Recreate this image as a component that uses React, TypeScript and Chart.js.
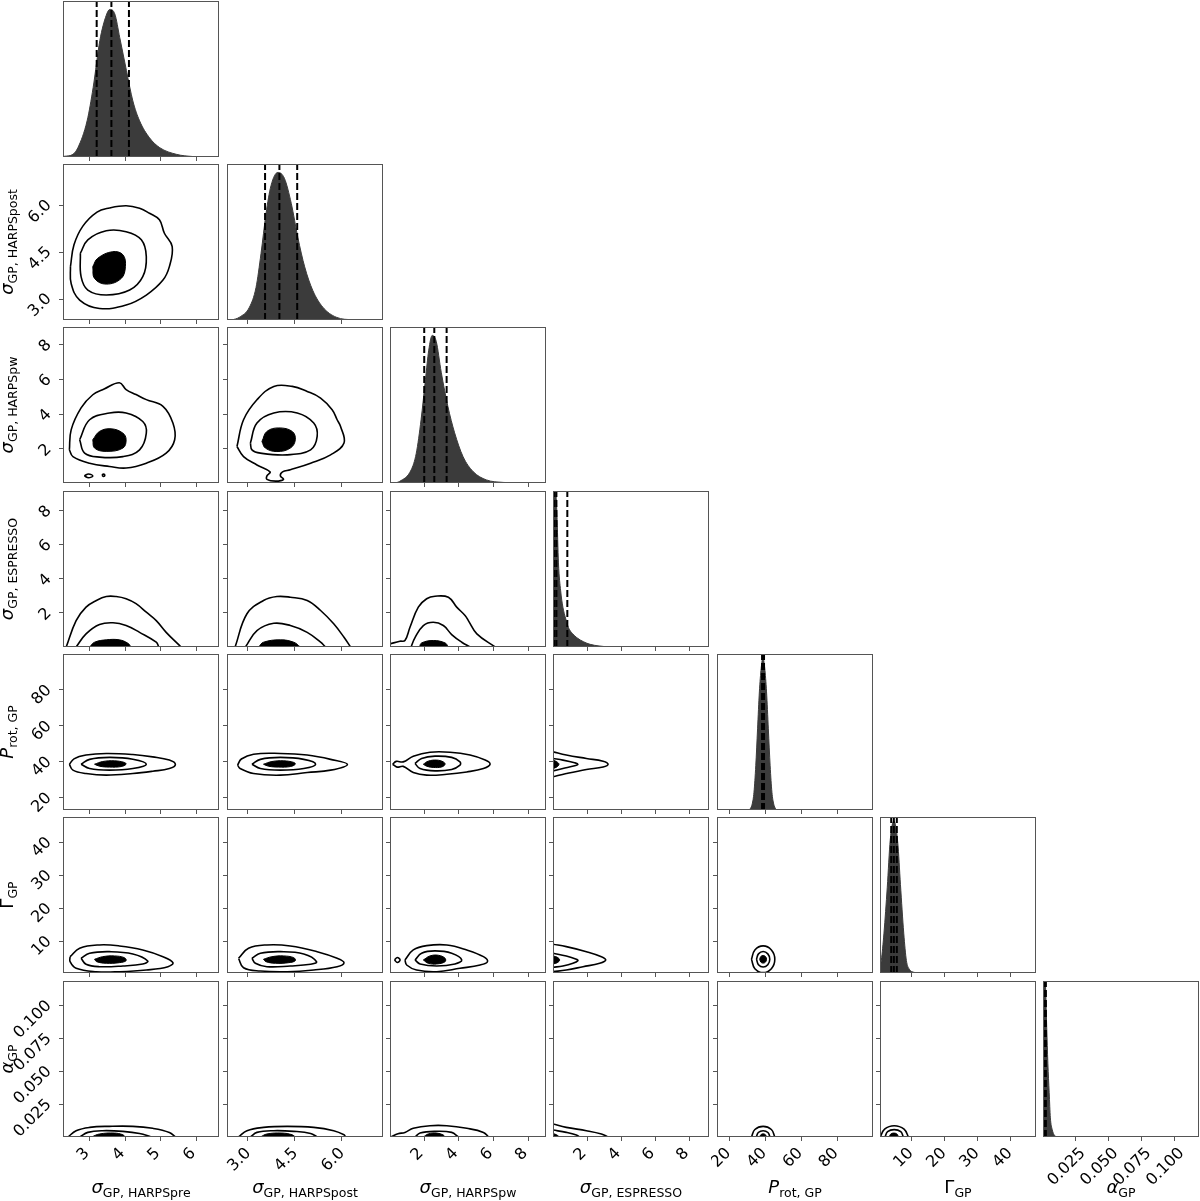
import React, { useEffect, useRef } from "react";
import { Chart, registerables } from "chart.js";

Chart.register(...registerables);
Chart.defaults.font.family = "'DejaVu Sans', sans-serif";

type Pt = [number, number];

// ---------------- axes (one entry per parameter) ----------------
const PARAM_MIN = [2.24, 2.34, 0.04, 0.0, 13.1, 0.3, 0.0];
const PARAM_MAX = [6.64, 7.34, 9.02, 9.15, 100.0, 47.6, 0.1185];
const PARAM_TICKS = [
  [3, 4, 5, 6],
  [3.0, 4.5, 6.0],
  [2, 4, 6, 8],
  [2, 4, 6, 8],
  [20, 40, 60, 80],
  [10, 20, 30, 40],
  [0.025, 0.05, 0.075, 0.1],
];
const PARAM_TICK_LABELS = [
  ["3", "4", "5", "6"],
  ["3.0", "4.5", "6.0"],
  ["2", "4", "6", "8"],
  ["2", "4", "6", "8"],
  ["20", "40", "60", "80"],
  ["10", "20", "30", "40"],
  ["0.025", "0.050", "0.075", "0.100"],
];
const LABEL_MAIN = ["σ", "σ", "σ", "σ", "P", "Γ", "α"];
const LABEL_ITALIC = [true, true, true, true, true, false, true];
const LABEL_SUB = ["GP, HARPSpre", "GP, HARPSpost", "GP, HARPSpw", "GP, ESPRESSO", "rot, GP", "GP", "GP"];

// ---------------- 1D marginals ----------------
const HIST0_X = [2.10, 2.29, 2.52, 2.66, 2.92, 3.09, 3.28, 3.46, 3.56, 3.70, 3.84, 4.03, 4.21, 4.40, 4.68, 4.97, 5.44, 5.91, 6.30];
const HIST0_Y = [0, 0.5, 1.8, 6.3, 24.5, 47, 79, 96, 100, 97, 81, 58.5, 38, 24.5, 13, 6.3, 1.8, 0.3, 0];
const HIST1_X = [2.50, 2.74, 3.06, 3.27, 3.43, 3.59, 3.75, 3.97, 4.18, 4.40, 4.61, 4.83, 5.09, 5.41, 5.84, 6.38, 7.00];
const HIST1_Y = [0, 1.9, 8.7, 22, 45, 72, 91, 100, 96, 79, 56, 36, 20, 8.7, 1.9, 0.2, 0];
const HIST2_X = [0.30, 0.58, 1.26, 1.55, 1.83, 2.08, 2.27, 2.47, 2.70, 2.99, 3.37, 3.76, 4.24, 4.82, 5.59, 6.55, 7.50];
const HIST2_Y = [0, 1, 8.9, 20, 43, 70, 90, 100, 96, 75, 52, 34, 18, 7.8, 2.1, 0.4, 0];
const HIST3_X = [0.0, 0.15, 0.23, 0.32, 0.45, 0.58, 0.75, 0.91, 1.15, 1.40, 1.80, 2.18, 2.70, 3.20, 4.50];
const HIST3_Y = [118, 108, 90, 57, 38, 27, 19, 13, 9, 6.3, 3.5, 1.8, 0.7, 0.2, 0];
const HIST4_X = [30.7, 31.7, 32.7, 33.7, 34.7, 35.7, 36.7, 37.7, 38.7, 39.7, 40.7, 41.7, 42.7, 43.7, 44.7, 45.7, 46.7];
const HIST4_Y = [0, 1, 4, 12, 30, 55, 80, 96, 103, 96, 80, 55, 30, 12, 4, 1, 0];
const HIST5_X = [0.3, 0.7, 1.5, 2.5, 3.4, 4.5, 5.7, 6.5, 7.5, 8.3, 9.2, 10.5, 12.0];
const HIST5_Y = [4, 8.5, 27, 58, 90, 103, 88, 60, 27, 8.5, 2.5, 0.5, 0];
const HIST6_X = [0.0, 0.0008, 0.0018, 0.0028, 0.0037, 0.0047, 0.0056, 0.0070, 0.0088, 0.0110, 0.0140];
const HIST6_Y = [118, 112, 105, 75, 50, 30, 13, 5, 1, 0.2, 0];
const HIST_TOP = [105.7, 105.7, 105.7, 105.7, 105.7, 105.7, 105.7];

// 16th / 50th / 84th percentiles
const Q0 = [3.19, 3.605, 4.10];
const Q1 = [3.56, 4.02, 4.59];
const Q2 = [2.01, 2.59, 3.30];
const Q3 = [0.08, 0.20, 0.84];
const Q4 = [38.2, 38.7, 39.3];
const Q5 = [3.7, 4.5, 5.4];
const Q6 = [0.0004, 0.0010, 0.0022];

// ---------------- 2D contours (outer, middle = lines; inner = filled) ----------------
const C10_OUT: Pt[] = [[2.45,4.05],[2.55,4.75],[2.80,5.35],[3.20,5.80],[3.55,5.93],[4.02,6.0],[4.40,5.92],[4.68,5.76],[4.96,5.55],[5.10,5.12],[5.32,4.69],[5.24,4.05],[5.06,3.62],[4.59,3.14],[4.02,2.82],[3.27,2.71],[2.71,2.98],[2.47,3.51]];
const C10_MID: Pt[] = [[2.73,4.48],[2.94,4.91],[3.46,5.20],[4.02,5.17],[4.45,4.91],[4.59,4.37],[4.49,3.73],[4.12,3.30],[3.46,3.14],[2.94,3.30],[2.75,3.73]];
const C10_IN: Pt[] = [[3.08,4.05],[3.22,4.32],[3.64,4.53],[3.93,4.43],[4.0,4.05],[3.88,3.67],[3.46,3.49],[3.13,3.67]];

const C20_OUT: Pt[] = [[2.42,1.95],[2.47,3.10],[2.75,4.36],[3.08,5.12],[3.40,5.45],[3.83,5.81],[4.02,5.42],[4.30,5.13],[4.59,4.84],[5.06,4.45],[5.34,3.49],[5.39,2.53],[5.15,1.76],[4.59,1.18],[4.02,0.90],[3.55,0.99],[2.99,1.18],[2.52,1.56]];
const C20_MID: Pt[] = [[2.71,2.53],[2.99,3.68],[3.55,4.07],[4.02,4.07],[4.49,3.58],[4.59,2.91],[4.40,1.95],[3.93,1.56],[3.27,1.53],[2.85,1.76]];
const C20_IN: Pt[] = [[3.08,2.53],[3.27,3.01],[3.60,3.16],[3.93,2.91],[4.02,2.53],[3.93,2.05],[3.46,1.86],[3.13,2.05]];
const C20_ISL_A: Pt[] = [[2.84,0.45],[2.96,0.56],[3.08,0.45],[2.96,0.34]];
const C20_ISL_B: Pt[] = [[3.34,0.49],[3.38,0.56],[3.42,0.49],[3.38,0.42]];

const C21_OUT: Pt[] = [[2.66,2.14],[2.87,3.68],[3.30,4.83],[3.84,5.60],[4.43,5.60],[4.91,5.31],[5.34,4.93],[5.71,4.26],[5.87,3.68],[5.98,3.29],[6.09,2.34],[5.66,1.66],[5.02,1.18],[4.37,0.80],[4.12,0.68],[4.05,0.45],[4.15,0.25],[3.90,0.15],[3.62,0.25],[3.62,0.45],[3.72,0.68],[3.30,1.08],[2.87,1.56]];
const C21_MID: Pt[] = [[3.09,2.34],[3.30,3.49],[3.84,4.07],[4.59,4.07],[5.12,3.49],[5.23,2.72],[5.02,1.95],[4.27,1.66],[3.41,1.76],[3.14,1.95]];
const C21_IN: Pt[] = [[3.46,2.43],[3.62,3.01],[4.00,3.21],[4.43,3.01],[4.53,2.53],[4.37,2.05],[3.94,1.85],[3.57,2.05]];

const C30_OUT: Pt[] = [[2.33,0.0],[2.61,1.55],[2.89,2.34],[3.18,2.73],[3.46,2.96],[3.74,2.96],[4.02,2.83],[4.30,2.54],[4.59,2.04],[4.87,1.55],[5.15,0.86],[5.57,0.0]];
const C30_MID: Pt[] = [[2.61,0.0],[2.89,0.77],[3.27,1.32],[3.65,1.42],[4.02,1.26],[4.40,0.86],[4.87,0.28],[4.94,0.0]];
const C30_IN: Pt[] = [[2.99,0.0],[3.13,0.28],[3.46,0.42],[3.83,0.42],[4.07,0.22],[4.16,0.0]];

const C31_OUT: Pt[] = [[2.60,0.0],[2.98,1.95],[3.51,2.73],[3.94,2.96],[4.37,2.92],[4.91,2.73],[5.34,2.14],[5.76,1.36],[6.09,0.57],[6.30,0.0]];
const C31_MID: Pt[] = [[2.93,0.0],[3.30,0.96],[3.84,1.39],[4.37,1.26],[4.91,0.86],[5.34,0.28],[5.50,0.0]];
const C31_IN: Pt[] = [[3.35,0.0],[3.51,0.28],[4.05,0.42],[4.48,0.28],[4.69,0.0]];

const C32_OUT: Pt[] = [[0.04,0.18],[0.61,0.34],[0.90,0.38],[1.19,1.16],[1.67,2.34],[2.15,2.83],[2.63,2.98],[3.40,2.92],[3.88,2.34],[4.36,1.85],[4.55,1.55],[5.04,0.77],[6.09,0.0]];
const C32_MID: Pt[] = [[1.25,0.0],[1.48,0.55],[1.96,1.26],[2.53,1.45],[3.11,1.26],[3.59,0.73],[4.17,0.28],[4.65,0.0]];
const C32_IN: Pt[] = [[1.73,0.0],[1.86,0.24],[2.53,0.38],[3.21,0.24],[3.40,0.0]];

const C40_OUT: Pt[] = [[2.42,38.5],[2.55,41.6],[2.89,43.7],[3.46,44.6],[4.21,44.0],[4.77,42.7],[5.24,40.9],[5.41,38.5],[5.24,36.2],[4.77,34.7],[4.21,33.4],[3.46,32.5],[2.89,33.4],[2.52,35.3]];
const C40_MID: Pt[] = [[2.75,38.6],[2.99,41.3],[3.55,42.4],[4.21,41.4],[4.59,38.6],[4.21,36.2],[3.55,35.3],[2.99,36.2]];
const C40_IN: Pt[] = [[3.13,38.6],[3.36,40.1],[3.69,40.5],[3.97,39.6],[4.02,38.6],[3.88,37.3],[3.55,37.0],[3.27,37.5]];

const C41_OUT: Pt[] = [[2.68,38.1],[2.80,41.5],[3.19,44.2],[4.05,44.6],[4.91,43.7],[5.66,41.3],[6.20,38.5],[5.66,35.3],[4.91,34.0],[4.05,32.5],[3.19,33.4],[2.76,36.2]];
const C41_MID: Pt[] = [[3.14,38.6],[3.41,41.3],[4.05,42.4],[4.80,41.3],[5.18,38.6],[4.80,36.2],[4.05,35.3],[3.41,36.2]];
const C41_IN: Pt[] = [[3.51,38.6],[3.78,40.1],[4.16,40.5],[4.48,39.6],[4.53,38.6],[4.37,37.3],[4.00,37.0],[3.67,37.5]];

const C42_OUT: Pt[] = [[0.19,38.6],[0.40,40.2],[0.80,39.9],[1.38,43.1],[2.34,45.3],[3.49,45.3],[4.65,43.7],[5.52,40.9],[5.80,38.6],[5.42,36.2],[4.46,34.3],[3.31,33.0],[2.15,32.5],[1.38,34.0],[0.80,37.4],[0.45,37.0]];
const C42_MID: Pt[] = [[1.48,39.0],[1.86,41.8],[2.63,43.1],[3.59,42.4],[4.07,39.9],[4.07,38.1],[3.59,35.7],[2.63,34.9],[1.77,36.2]];
const C42_IN: Pt[] = [[1.96,38.6],[2.24,40.3],[2.73,40.9],[3.11,39.9],[3.21,38.6],[3.02,37.1],[2.53,36.8],[2.15,37.5]];

const C43_OUT: Pt[] = [[0.0,45.5],[0.78,43.7],[1.96,41.8],[2.94,40.3],[3.23,38.6],[2.94,37.1],[1.96,35.7],[0.78,33.4],[0.0,31.6]];
const C43_MID: Pt[] = [[0.0,41.8],[0.58,40.9],[1.27,39.4],[1.46,38.6],[1.27,37.7],[0.58,36.2],[0.0,34.9]];
const C43_IN: Pt[] = [[0.0,40.9],[0.23,39.9],[0.35,38.6],[0.23,37.1],[0.0,36.2]];

const C50_OUT: Pt[] = [[2.44,5.25],[2.71,7.81],[3.27,8.81],[3.83,8.51],[4.49,7.29],[5.06,5.25],[5.34,3.43],[5.20,2.21],[4.59,1.21],[3.83,0.70],[3.18,0.70],[2.61,1.73],[2.44,3.73]];
const C50_MID: Pt[] = [[2.75,4.77],[2.99,6.29],[3.55,6.77],[4.21,6.08],[4.63,3.95],[4.49,3.04],[3.93,2.43],[3.27,2.21],[2.89,2.94]];
const C50_IN: Pt[] = [[3.13,4.46],[3.36,5.25],[3.69,5.47],[3.97,4.95],[4.02,4.04],[3.83,3.43],[3.46,3.25],[3.19,3.73]];

const C51_OUT: Pt[] = [[2.71,4.77],[3.03,7.81],[3.62,8.81],[4.37,8.51],[5.23,6.77],[5.87,4.77],[6.09,3.43],[5.87,2.21],[5.12,1.21],[4.27,0.70],[3.41,0.91],[2.87,1.91]];
const C51_MID: Pt[] = [[3.14,4.77],[3.41,6.29],[4.05,6.77],[4.80,6.08],[5.21,3.73],[5.02,2.94],[4.37,2.43],[3.62,2.21],[3.25,3.25]];
const C51_IN: Pt[] = [[3.51,4.46],[3.78,5.25],[4.16,5.47],[4.48,4.95],[4.53,4.04],[4.32,3.43],[3.89,3.25],[3.59,3.73]];

const C52_OUT: Pt[] = [[0.90,4.25],[1.38,7.29],[2.15,8.60],[3.31,8.81],[4.46,7.29],[5.42,5.25],[5.65,3.73],[5.23,2.73],[4.07,1.73],[2.73,0.70],[1.57,1.21],[1.0,2.73]];
const C52_MID: Pt[] = [[1.48,4.25],[1.86,6.29],[2.63,7.0],[3.59,6.29],[4.17,4.25],[3.78,3.04],[2.73,2.43],[1.77,3.04]];
const C52_IN: Pt[] = [[1.96,4.25],[2.34,5.47],[2.82,5.68],[3.21,4.77],[3.21,3.73],[2.73,3.04],[2.24,3.25]];
const C52_ISL: Pt[] = [[0.30,4.25],[0.46,5.0],[0.62,4.25],[0.46,3.5]];

const C53_OUT: Pt[] = [[0.0,9.02],[0.78,8.29],[1.96,6.77],[2.84,5.25],[3.09,4.25],[2.74,3.25],[1.76,2.21],[0.78,1.21],[0.0,0.70]];
const C53_MID: Pt[] = [[0.0,6.29],[0.78,5.47],[1.37,4.46],[1.46,4.04],[1.17,3.25],[0.58,2.43],[0.0,2.03]];
const C53_IN: Pt[] = [[0.0,5.47],[0.25,5.07],[0.39,4.25],[0.25,3.43],[0.0,3.04]];

const C54_OUT: Pt[] = [[32.3,4.46],[34.2,7.3],[38.8,8.51],[43.4,7.3],[45.3,4.46],[43.4,1.6],[38.8,0.4],[34.2,1.6]];
const C54_MID: Pt[] = [[35.1,4.46],[36.2,6.1],[38.8,6.8],[41.4,6.1],[42.5,4.46],[41.4,2.8],[38.8,2.1],[36.2,2.8]];
const C54_IN: Pt[] = [[36.9,4.46],[37.5,5.3],[38.8,5.6],[40.1,5.3],[40.7,4.46],[40.1,3.6],[38.8,3.3],[37.5,3.6]];

const C60_OUT: Pt[] = [[2.38,0],[2.61,0.0048],[2.99,0.0073],[3.55,0.0081],[4.21,0.0081],[4.77,0.0066],[5.24,0.0035],[5.41,0]];
const C60_MID: Pt[] = [[2.71,0],[2.94,0.0035],[3.36,0.0048],[3.93,0.0043],[4.40,0.0027],[4.73,0]];
const C60_IN: Pt[] = [[3.04,0],[3.27,0.0023],[3.69,0.0030],[3.93,0.0017],[4.0,0]];

const C61_OUT: Pt[] = [[2.71,0],[2.98,0.0048],[3.51,0.0073],[4.27,0.0081],[5.12,0.0073],[5.76,0.0048],[6.09,0.0017],[6.14,0]];
const C61_MID: Pt[] = [[3.09,0],[3.30,0.0035],[3.84,0.0048],[4.48,0.0043],[5.02,0.0027],[5.23,0]];
const C61_IN: Pt[] = [[3.41,0],[3.62,0.0023],[4.10,0.0030],[4.43,0.0017],[4.53,0]];

const C62_OUT: Pt[] = [[0.08,0],[0.5,0.0025],[0.90,0.0035],[1.38,0.0066],[2.34,0.0086],[3.31,0.0086],[4.46,0.0066],[5.42,0.0035],[5.71,0]];
const C62_MID: Pt[] = [[1.48,0],[1.77,0.003],[2.63,0.0043],[3.59,0.0035],[3.98,0]];
const C62_IN: Pt[] = [[1.96,0],[2.24,0.0023],[2.73,0.003],[3.11,0.0015],[3.21,0]];

const C63_OUT: Pt[] = [[0,0.0099],[0.78,0.0073],[1.96,0.0048],[2.84,0.0023],[3.23,0]];
const C63_MID: Pt[] = [[0,0.0053],[0.78,0.0035],[1.37,0.0015],[1.56,0]];
const C63_IN: Pt[] = [[0,0.0027],[0.23,0.0015],[0.35,0],[0,0]];

const C64_OUT: Pt[] = [[32.3,0],[34.2,0.0057],[38.8,0.0081],[43.4,0.0057],[45.3,0]];
const C64_MID: Pt[] = [[35.0,0],[36.1,0.0034],[38.8,0.0048],[41.5,0.0034],[42.6,0]];
const C64_IN: Pt[] = [[36.9,0],[37.5,0.0017],[38.8,0.0024],[40.1,0.0017],[40.7,0]];

const C65_OUT: Pt[] = [[0.4,0],[1.7,0.006],[4.6,0.0086],[7.6,0.006],[8.9,0]];
const C65_MID: Pt[] = [[1.8,0],[2.6,0.004],[4.6,0.0056],[6.6,0.004],[7.4,0]];
const C65_IN: Pt[] = [[3.1,0],[3.5,0.0021],[4.5,0.003],[5.5,0.0021],[5.9,0]];

// ---------------- tables built from the arrays above ----------------
const HIST_X = [HIST0_X, HIST1_X, HIST2_X, HIST3_X, HIST4_X, HIST5_X, HIST6_X];
const HIST_Y = [HIST0_Y, HIST1_Y, HIST2_Y, HIST3_Y, HIST4_Y, HIST5_Y, HIST6_Y];
const QUANTS = [Q0, Q1, Q2, Q3, Q4, Q5, Q6];

type Loop = [Pt[], "line" | "fill", boolean];
const CONTOURS: Record<string, Loop[]> = {
  "1,0": [[C10_OUT, "line", true], [C10_MID, "line", true], [C10_IN, "fill", true]],
  "2,0": [[C20_OUT, "line", true], [C20_MID, "line", true], [C20_IN, "fill", true], [C20_ISL_A, "line", true], [C20_ISL_B, "line", true]],
  "2,1": [[C21_OUT, "line", true], [C21_MID, "line", true], [C21_IN, "fill", true]],
  "3,0": [[C30_OUT, "line", false], [C30_MID, "line", false], [C30_IN, "fill", false]],
  "3,1": [[C31_OUT, "line", false], [C31_MID, "line", false], [C31_IN, "fill", false]],
  "3,2": [[C32_OUT, "line", false], [C32_MID, "line", false], [C32_IN, "fill", false]],
  "4,0": [[C40_OUT, "line", true], [C40_MID, "line", true], [C40_IN, "fill", true]],
  "4,1": [[C41_OUT, "line", true], [C41_MID, "line", true], [C41_IN, "fill", true]],
  "4,2": [[C42_OUT, "line", true], [C42_MID, "line", true], [C42_IN, "fill", true]],
  "4,3": [[C43_OUT, "line", false], [C43_MID, "line", false], [C43_IN, "fill", false]],
  "5,0": [[C50_OUT, "line", true], [C50_MID, "line", true], [C50_IN, "fill", true]],
  "5,1": [[C51_OUT, "line", true], [C51_MID, "line", true], [C51_IN, "fill", true]],
  "5,2": [[C52_OUT, "line", true], [C52_MID, "line", true], [C52_IN, "fill", true], [C52_ISL, "line", true]],
  "5,3": [[C53_OUT, "line", false], [C53_MID, "line", false], [C53_IN, "fill", false]],
  "5,4": [[C54_OUT, "line", true], [C54_MID, "line", true], [C54_IN, "fill", true]],
  "6,0": [[C60_OUT, "line", false], [C60_MID, "line", false], [C60_IN, "fill", false]],
  "6,1": [[C61_OUT, "line", false], [C61_MID, "line", false], [C61_IN, "fill", false]],
  "6,2": [[C62_OUT, "line", false], [C62_MID, "line", false], [C62_IN, "fill", false]],
  "6,3": [[C63_OUT, "line", false], [C63_MID, "line", false], [C63_IN, "fill", false]],
  "6,4": [[C64_OUT, "line", false], [C64_MID, "line", false], [C64_IN, "fill", false]],
  "6,5": [[C65_OUT, "line", false], [C65_MID, "line", false], [C65_IN, "fill", false]],
};

// ---------------- layout / style ----------------
const NP = 7;
const PANEL = 156;
const colLeft = (c: number) => Math.round(63.3 + 163.33 * c);
const rowTop = (r: number) => Math.round(0.7 + 163.33 * r);
const FRAME_COLOR = "#555555";
const HIST_COLOR = "#3b3b3b";
const TICK_FONT = { family: "'DejaVu Sans', sans-serif", size: 16 };
const X_LABEL_OFFSET = [-3, 1, -3, -3, -1, -1, 7];
const Y_LABEL_OFFSET = [0, -3, -2, -2, -2, -2, -2];

type PanelDef = { key: string; r: number; c: number; padL: number; padT: number; padR: number; padB: number; left: number; top: number; w: number; h: number };
const PANELS: PanelDef[] = [];
for (let r = 0; r < NP; r++) {
  for (let c = 0; c <= r; c++) {
    const padL = c === 0 ? 62 : 6;
    const padB = r === NP - 1 ? 58 : 6;
    const padT = 1;
    const padR = 2;
    PANELS.push({
      key: `${r},${c}`, r, c, padL, padT, padR, padB,
      left: colLeft(c) - padL, top: rowTop(r) - padT,
      w: padL + PANEL + padR, h: padT + PANEL + padB,
    });
  }
}

const framePlugin = {
  id: "panelFrame",
  afterDraw(chart: any) {
    const { ctx, chartArea: a } = chart;
    ctx.save();
    ctx.strokeStyle = FRAME_COLOR;
    ctx.lineWidth = 1;
    ctx.strokeRect(Math.round(a.left) + 0.5, Math.round(a.top) + 0.5, Math.round(a.right - a.left) - 1, Math.round(a.bottom - a.top) - 1);
    ctx.restore();
  },
};

function tickLabel(p: number, v: number) {
  const i = PARAM_TICKS[p].findIndex((t) => Math.abs(t - v) < 1e-9);
  return i >= 0 ? PARAM_TICK_LABELS[p][i] : "";
}

function buildConfig(p: PanelDef): any {
  const { r, c, padL, padT, padR, padB } = p;
  const diag = r === c;
  const datasets: any[] = [];
  if (diag) {
    const hx = HIST_X[c];
    const hy = HIST_Y[c];
    datasets.push({
      data: hx.map((x, i) => ({ x, y: hy[i] })),
      borderColor: HIST_COLOR, backgroundColor: HIST_COLOR, borderWidth: 1,
      fill: "origin", cubicInterpolationMode: "monotone", pointRadius: 0, order: 2,
    });
    for (const q of QUANTS[c]) {
      datasets.push({
        data: [{ x: q, y: 0 }, { x: q, y: HIST_TOP[c] }],
        borderColor: "#000", borderWidth: 2, borderDash: [7, 3], fill: false,
        pointRadius: 0, tension: 0, order: 1,
      });
    }
  } else {
    for (const [pts, kind, closed] of CONTOURS[p.key]) {
      const data = pts.map(([x, y]) => ({ x, y }));
      if (closed) data.push({ x: pts[0][0], y: pts[0][1] });
      datasets.push({
        data,
        borderColor: "#000", backgroundColor: "#000",
        borderWidth: kind === "fill" ? 1 : 1.6,
        fill: kind === "fill" ? "shape" : false,
        tension: 0.4, pointRadius: 0,
      });
    }
  }

  const xp = c;
  const x: any = {
    type: "linear", min: PARAM_MIN[xp], max: PARAM_MAX[xp], offset: false,
    afterBuildTicks: (s: any) => { s.ticks = PARAM_TICKS[xp].map((v) => ({ value: v })); },
    afterFit: (s: any) => { s.height = padB; s.paddingLeft = 0; s.paddingRight = 0; },
    ticks: {
      display: r === NP - 1, autoSkip: false, minRotation: 45, maxRotation: 45,
      padding: 3, labelOffset: X_LABEL_OFFSET[xp], font: TICK_FONT, color: "#000",
      callback: (v: number) => tickLabel(xp, v),
    },
    grid: { display: true, drawOnChartArea: false, drawTicks: true, tickLength: 4, color: FRAME_COLOR, lineWidth: 1 },
    border: { display: false },
  };

  let y: any;
  if (diag) {
    y = {
      type: "linear", min: 0, max: HIST_TOP[c],
      afterFit: (s: any) => { s.width = padL; s.paddingTop = 0; s.paddingBottom = 0; },
      ticks: { display: false },
      grid: { display: false },
      border: { display: false },
    };
  } else {
    const yp = r;
    y = {
      type: "linear", min: PARAM_MIN[yp], max: PARAM_MAX[yp],
      afterBuildTicks: (s: any) => { s.ticks = PARAM_TICKS[yp].map((v) => ({ value: v })); },
      afterFit: (s: any) => { s.width = padL; s.paddingTop = 0; s.paddingBottom = 0; },
      ticks: {
        display: c === 0, autoSkip: false, minRotation: 45, maxRotation: 45,
        padding: 10, labelOffset: Y_LABEL_OFFSET[yp], font: TICK_FONT, color: "#000",
        callback: (v: number) => tickLabel(yp, v),
      },
      grid: { display: true, drawOnChartArea: false, drawTicks: true, tickLength: 4, color: FRAME_COLOR, lineWidth: 1 },
      border: { display: false },
    };
  }

  return {
    type: "line",
    data: { datasets },
    options: {
      responsive: false, animation: false, events: [],
      layout: { padding: { top: padT, right: padR, left: 0, bottom: 0 } },
      plugins: { legend: { display: false }, tooltip: { enabled: false } },
      elements: { point: { radius: 0 } },
      scales: { x, y },
    },
    plugins: [framePlugin],
  };
}

function AxisLabel({ p }: { p: number }) {
  return (
    <span style={{ whiteSpace: "nowrap", fontFamily: "'DejaVu Sans', sans-serif", color: "#000" }}>
      <span style={{ fontSize: 18, fontStyle: LABEL_ITALIC[p] ? "italic" : "normal" }}>{LABEL_MAIN[p]}</span>
      <span style={{ fontSize: 12.5, position: "relative", top: 4 }}>{LABEL_SUB[p]}</span>
    </span>
  );
}

export default function App() {
  const refs = useRef<Record<string, HTMLCanvasElement | null>>({});

  useEffect(() => {
    const prev = document.body.style.margin;
    document.body.style.margin = "0";
    const charts: Chart[] = [];
    for (const p of PANELS) {
      const cv = refs.current[p.key];
      if (!cv) continue;
      charts.push(new Chart(cv, buildConfig(p)));
    }
    return () => {
      charts.forEach((ch) => ch.destroy());
      document.body.style.margin = prev;
    };
  }, []);

  return (
    <div style={{ position: "relative", width: 1200, height: 1201, overflow: "hidden", background: "#fff" }}>
      {PANELS.map((p) => (
        <canvas
          key={p.key}
          ref={(el) => { refs.current[p.key] = el; }}
          width={p.w}
          height={p.h}
          style={{ position: "absolute", left: p.left, top: p.top, width: p.w, height: p.h }}
        />
      ))}
      {Array.from({ length: NP }, (_, c) => (
        <div
          key={`xt${c}`}
          style={{ position: "absolute", left: colLeft(c) + PANEL / 2 - 150, width: 300, top: 1175, lineHeight: "24px", textAlign: "center" }}
        >
          <AxisLabel p={c} />
        </div>
      ))}
      {Array.from({ length: NP - 1 }, (_, i) => {
        const r = i + 1;
        return (
          <div
            key={`yt${r}`}
            style={{
              position: "absolute", left: 8, top: rowTop(r) + PANEL / 2,
              lineHeight: "24px", transform: "translate(-50%, -50%) rotate(-90deg)",
            }}
          >
            <AxisLabel p={r} />
          </div>
        );
      })}
    </div>
  );
}
